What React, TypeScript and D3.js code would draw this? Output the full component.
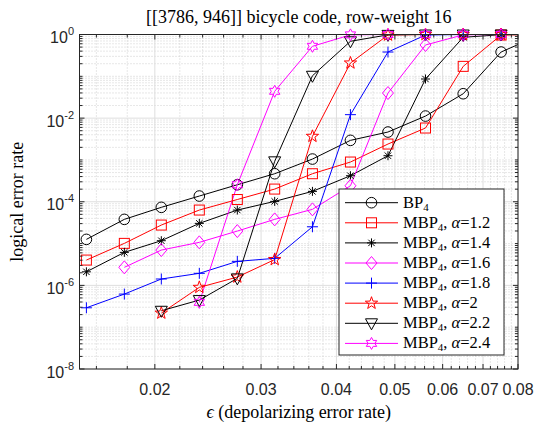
import React from 'react';
import * as d3 from 'd3';

// depolarizing error rates (x)
const eps = [0.0154, 0.0178, 0.0205, 0.0237, 0.0274, 0.0316, 0.0365, 0.0422, 0.0487, 0.0562, 0.0649, 0.075, 0.0866];

// logical error rates, null = not simulated
const bp4 = [1.26e-5, 3.79e-5, 7.35e-5, 1.37e-4, 2.55e-4, 4.68e-4, 1.05e-3, 2.94e-3, 4.65e-3, 1.12e-2, 3.83e-2, 0.381, 0.95];
const mbp12 = [4.03e-6, 1.01e-5, 2.77e-5, 6.33e-5, 1.13e-4, 2.01e-4, 4.68e-4, 8.91e-4, 2.4e-3, 5.8e-3, 0.173, 0.97, 1];
const mbp14 = [2.11e-6, 6.16e-6, 1.17e-5, 3.04e-5, 6.33e-5, 1.02e-4, 1.77e-4, 4.19e-4, 1.26e-3, 0.0862, 0.857, 0.99, 1];
const mbp16 = [null, 2.7e-6, 6.99e-6, 1.07e-5, 1.99e-5, 3.79e-5, 6.58e-5, 2.41e-4, 0.0398, 0.561, 0.98, 1, 1];
const mbp18 = [2.91e-7, 6.19e-7, 1.42e-6, 1.94e-6, 3.75e-6, 4.43e-6, 2.52e-5, 1.21e-2, 0.381, 0.97, 1, 1, 1];
const mbp20 = [null, null, 2.17e-7, 8.96e-7, 1.58e-6, 4.14e-6, 3.67e-3, 0.208, 0.97, 1, 1, 1, 1];
const mbp22 = [null, null, 2.47e-7, 4.45e-7, 1.47e-6, 9.26e-4, 0.103, 0.688, 0.98, 1, 1, 1, 1];
const mbp24 = [null, null, null, 3.92e-7, 2.55e-4, 0.0438, 0.522, 0.98, 1, 1, 1, 1, 1];

const alphas = ['', '1.2', '1.4', '1.6', '1.8', '2', '2.2', '2.4'];
const xTickValues = [0.02, 0.03, 0.04, 0.05, 0.06, 0.07, 0.08];
const yTickExps = [0, -2, -4, -6, -8];

const series = [
  { data: bp4, color: '#000000', marker: 'circle' },
  { data: mbp12, color: '#ff0000', marker: 'square' },
  { data: mbp14, color: '#000000', marker: 'asterisk' },
  { data: mbp16, color: '#ff00ff', marker: 'diamond' },
  { data: mbp18, color: '#0000ff', marker: 'plus' },
  { data: mbp20, color: '#ff0000', marker: 'pentagram' },
  { data: mbp22, color: '#000000', marker: 'triangle' },
  { data: mbp24, color: '#ff00ff', marker: 'hexagram' },
];

const W = 540;
const H = 424;
const left = 79.5, right = 518, top = 34.5, bottom = 369;

const x = d3.scaleLog().domain([0.015, 0.08]).range([left, right]);
const y = d3.scaleLog().domain([1e-8, 1]).range([bottom, top]);

const axisColor = '#262626';
const serif = '"Liberation Serif", "DejaVu Serif", serif';
const sans = '"Liberation Sans", Arial, sans-serif';

function star(n, R, r) {
  const pts = [];
  for (let i = 0; i < 2 * n; i++) {
    const a = -Math.PI / 2 + (i * Math.PI) / n;
    const rad = i % 2 === 0 ? R : r;
    pts.push([rad * Math.cos(a), rad * Math.sin(a)]);
  }
  return 'M' + pts.map((p) => p[0].toFixed(2) + ',' + p[1].toFixed(2)).join('L') + 'Z';
}

function Marker({ type, cx, cy, color }) {
  const common = { fill: 'none', stroke: color, strokeWidth: 1 };
  const t = `translate(${cx},${cy})`;
  switch (type) {
    case 'circle':
      return <circle cx={cx} cy={cy} r={5.3} {...common} />;
    case 'square':
      return <rect x={cx - 5} y={cy - 5} width={10} height={10} {...common} />;
    case 'asterisk':
      return (
        <g transform={t} {...common}>
          <path d="M-4.5,0H4.5M0,-4.5V4.5M-3.2,-3.2L3.2,3.2M-3.2,3.2L3.2,-3.2" />
        </g>
      );
    case 'diamond':
      return <path transform={t} d="M0,-6.5L5.5,0L0,6.5L-5.5,0Z" {...common} />;
    case 'plus':
      return <path transform={t} d="M-5.5,0H5.5M0,-5.5V5.5" {...common} />;
    case 'pentagram':
      return <path transform={t} d={star(5, 6.5, 2.6)} {...common} />;
    case 'triangle':
      return <path transform={t} d="M-6,-4.5L6,-4.5L0,6.5Z" {...common} />;
    case 'hexagram':
      return <path transform={t} d={star(6, 6, 3.4)} {...common} />;
    default:
      return null;
  }
}

const xMinor = d3.range(16, 80, 2).map((v) => v / 1000).filter((v) => !xTickValues.some((t) => Math.abs(t - v) < 1e-9));
const yMinor = [];
for (let k = -8; k < 0; k++) {
  for (let m = 2; m <= 9; m++) yMinor.push(m * Math.pow(10, k));
  if (k % 2 !== 0) yMinor.push(Math.pow(10, k));
}

function LegendLabel({ i, xPos, yPos }) {
  if (i === 0) {
    return (
      <text x={xPos} y={yPos} fontFamily={serif} fontSize={16.5} fill="#000">
        BP<tspan fontSize={11} dy={3}>4</tspan>
      </text>
    );
  }
  return (
    <text x={xPos} y={yPos} fontFamily={serif} fontSize={16.5} fill="#000">
      MBP<tspan fontSize={11} dy={3}>4</tspan>
      <tspan dy={-3}>, </tspan>
      <tspan fontStyle="italic">α</tspan>
      <tspan>={alphas[i]}</tspan>
    </text>
  );
}

export default function App() {
  const line = d3
    .line()
    .defined((d) => d[1] != null)
    .x((d) => x(d[0]))
    .y((d) => y(d[1]));

  const legX = 339, legY = 189, legW = 165, legH = 166;
  const rowY = (i) => 202.7 + i * 20.1;

  return (
    <svg width={W} height={H} style={{ position: 'absolute', left: 0, top: 0, background: '#fff' }}>
      <defs>
        <clipPath id="plotClip">
          <rect x={left} y={top} width={right - left} height={bottom - top} />
        </clipPath>
      </defs>
      <rect x={0} y={0} width={W} height={H} fill="#fff" />

      {/* grid */}
      <g>
        {xMinor.map((v) => (
          <line key={'xm' + v} x1={x(v)} x2={x(v)} y1={top} y2={bottom} stroke="#c4c4c4" strokeWidth={0.8} strokeDasharray="1,2" />
        ))}
        {yMinor.map((v) => (
          <line key={'ym' + v} x1={left} x2={right} y1={y(v)} y2={y(v)} stroke="#c4c4c4" strokeWidth={0.8} strokeDasharray="1,2" />
        ))}
        {xTickValues.map((v) => (
          <line key={'xg' + v} x1={x(v)} x2={x(v)} y1={top} y2={bottom} stroke="#dedede" strokeWidth={1} />
        ))}
        {yTickExps.map((e) => (
          <line key={'yg' + e} x1={left} x2={right} y1={y(Math.pow(10, e))} y2={y(Math.pow(10, e))} stroke="#dedede" strokeWidth={1} />
        ))}
      </g>

      {/* series lines */}
      <g clipPath="url(#plotClip)">
        {series.map((s, i) => (
          <path key={'l' + i} d={line(eps.map((e, j) => [e, s.data[j]]))} fill="none" stroke={s.color} strokeWidth={1} />
        ))}
      </g>

      {/* markers */}
      <g>
        {series.map((s, i) =>
          eps.map((e, j) =>
            s.data[j] != null && e <= 0.08 ? (
              <Marker key={'m' + i + '-' + j} type={s.marker} cx={x(e)} cy={y(s.data[j])} color={s.color} />
            ) : null
          )
        )}
      </g>

      {/* axes box and ticks */}
      <rect x={left} y={top} width={right - left} height={bottom - top} fill="none" stroke={axisColor} strokeWidth={1} />
      <g stroke={axisColor} strokeWidth={1}>
        {xTickValues.map((v) => (
          <g key={'xt' + v}>
            <line x1={x(v)} x2={x(v)} y1={bottom} y2={bottom - 5} />
            <line x1={x(v)} x2={x(v)} y1={top} y2={top + 5} />
          </g>
        ))}
        {xMinor.map((v) => (
          <g key={'xmt' + v}>
            <line x1={x(v)} x2={x(v)} y1={bottom} y2={bottom - 3} />
            <line x1={x(v)} x2={x(v)} y1={top} y2={top + 3} />
          </g>
        ))}
        {yTickExps.map((e) => (
          <g key={'yt' + e}>
            <line x1={left} x2={left + 5} y1={y(Math.pow(10, e))} y2={y(Math.pow(10, e))} />
            <line x1={right} x2={right - 5} y1={y(Math.pow(10, e))} y2={y(Math.pow(10, e))} />
          </g>
        ))}
        {yMinor.map((v) => (
          <g key={'ymt' + v}>
            <line x1={left} x2={left + 3} y1={y(v)} y2={y(v)} />
            <line x1={right} x2={right - 3} y1={y(v)} y2={y(v)} />
          </g>
        ))}
      </g>

      {/* tick labels */}
      {xTickValues.map((v) => (
        <text key={'xl' + v} x={x(v)} y={395} textAnchor="middle" fontFamily={sans} fontSize={16} fill="#262626">
          {d3.format('.2f')(v)}
        </text>
      ))}
      {yTickExps.map((e) => (
        <text key={'yl' + e} x={74} y={y(Math.pow(10, e)) + 8.5} textAnchor="end" fontFamily={sans} fontSize={16} fill="#262626">
          10<tspan fontSize={11} dy={-8}>{e}</tspan>
        </text>
      ))}

      {/* titles */}
      <text x={(left + right) / 2} y={23} textAnchor="middle" fontFamily={serif} fontSize={18} fill="#000">
        [[3786, 946]] bicycle code, row-weight 16
      </text>
      <text x={(left + right) / 2} y={418} textAnchor="middle" fontFamily={serif} fontSize={18} fill="#000">
        <tspan fontStyle="italic">ϵ</tspan> (depolarizing error rate)
      </text>
      <text transform={`translate(23,${(top + bottom) / 2}) rotate(-90)`} textAnchor="middle" fontFamily={serif} fontSize={18} fill="#000">
        logical error rate
      </text>

      {/* legend */}
      <g>
        <rect x={legX} y={legY} width={legW} height={legH} fill="#fff" stroke={axisColor} strokeWidth={1} />
        {series.map((s, i) => (
          <g key={'lg' + i}>
            <line x1={345} x2={398} y1={rowY(i)} y2={rowY(i)} stroke={s.color} strokeWidth={1} />
            <Marker type={s.marker} cx={371.5} cy={rowY(i)} color={s.color} />
            <LegendLabel i={i} xPos={403} yPos={rowY(i) + 5} />
          </g>
        ))}
      </g>
    </svg>
  );
}
